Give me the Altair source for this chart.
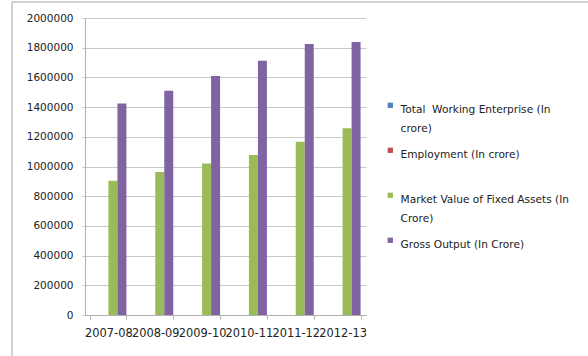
import altair as alt
import pandas as pd

years = ["2007-08", "2008-09", "2009-10", "2010-11", "2011-12", "2012-13"]
series = [
    "Total  Working Enterprise (In crore)",
    "Employment (In crore)",
    "Market Value of Fixed Assets (In Crore)",
    "Gross Output (In Crore)",
]
colors = ["#4F81BD", "#C0504D", "#9BBB59", "#8064A2"]

working_enterprise = [3.77, 3.94, 4.11, 4.29, 4.48, 4.68]
employment = [8.42, 8.81, 9.22, 9.65, 10.12, 10.61]
fixed_assets = [904000, 963000, 1021000, 1077000, 1167000, 1257000]
gross_output = [1425000, 1510000, 1609000, 1712000, 1825000, 1838000]

y_ticks = list(range(0, 2000001, 200000))

rows = []
for name, vals in zip(series, [working_enterprise, employment, fixed_assets, gross_output]):
    for yr, v in zip(years, vals):
        rows.append({"year": yr, "series": name, "value": v})
df = pd.DataFrame(rows)

FONT = "DejaVu Sans"

label_expr = (
    "datum.label == 'Total  Working Enterprise (In crore)' ? ['Total\u00a0 Working Enterprise (In', 'crore)'] : "
    "datum.label == 'Market Value of Fixed Assets (In Crore)' ? ['Market Value of Fixed Assets (In', 'Crore)'] : "
    "datum.label == 'Employment (In crore)' ? ['Employment (In crore)', ''] : datum.label"
)

bars = alt.Chart(df).mark_bar(size=9).encode(
    x=alt.X(
        "year:N",
        sort=years,
        title=None,
        scale=alt.Scale(paddingInner=0.231, paddingOuter=0.1155),
        axis=alt.Axis(
            labelAngle=0,
            labelFont=FONT,
            labelFontSize=11.4,
            labelColor="#222222",
            labelOverlap=False,
            labelPadding=8,
            tickBand="extent",
            tickSize=4,
            tickColor="#b0b0b0",
            domainColor="#b0b0b0",
            grid=False,
        ),
    ),
    xOffset=alt.XOffset("series:N", sort=series, scale=alt.Scale(paddingInner=0, paddingOuter=0)),
    y=alt.Y(
        "value:Q",
        title=None,
        scale=alt.Scale(domain=[0, 2000000], nice=False),
        axis=alt.Axis(
            values=y_ticks,
            format="d",
            labelFont=FONT,
            labelFontSize=10.5,
            labelColor="#222222",
            labelPadding=9,
            tickSize=3,
            tickColor="#c8c8c8",
            domainColor="#b0b0b0",
            gridColor="#c8c8c8",
        ),
    ),
    color=alt.Color(
        "series:N",
        sort=series,
        scale=alt.Scale(domain=series, range=colors),
        legend=alt.Legend(
            title=None,
            orient="none",
            legendX=300,
            legendY=82,
            symbolType="square",
            symbolSize=28,
            symbolStrokeWidth=0,
            labelFont=FONT,
            labelFontSize=10.6,
            labelColor="#222222",
            labelBaseline="top",
            labelExpr=label_expr,
            labelLimit=300,
            rowPadding=10,
            labelOffset=5,
        ),
    ),
)

border = alt.Chart(pd.DataFrame({"a": [0]})).mark_rect(
    fill=None, stroke="#a6a6a6", strokeWidth=1
).encode(
    x=alt.value(-73), x2=alt.value(600), y=alt.value(-16), y2=alt.value(400)
)

chart = alt.layer(border, bars).properties(
    width=281,
    height=297,
    padding={"left": 85, "top": 18, "right": 222, "bottom": 41},
    autosize=alt.AutoSizeParams(type="none"),
    background="white",
).configure(
    view=alt.ViewConfig(stroke=None),
    style={"guide-label": {"lineHeight": 19}},
)

chart.save("out.html", embed_options={"renderer": "svg", "actions": False})
